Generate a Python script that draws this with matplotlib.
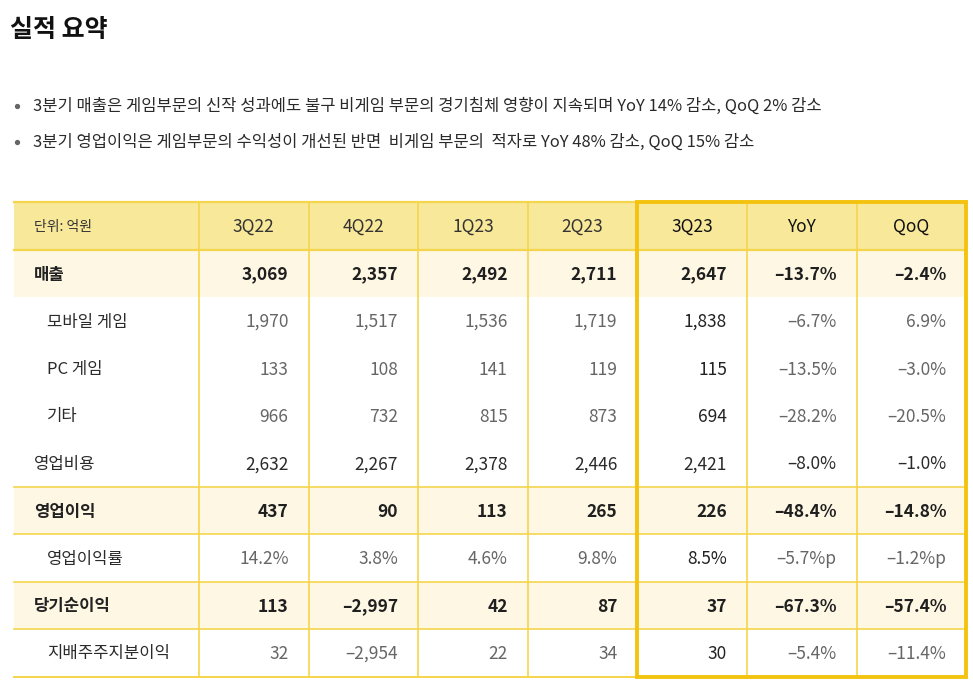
import matplotlib
matplotlib.use("Agg")
import matplotlib.pyplot as plt
from matplotlib.patches import Rectangle

plt.rcParams["font.family"] = ["Noto Sans CJK KR", "DejaVu Sans"]

TITLE = "실적 요약"
BULLETS = [
    "3분기 매출은 게임부문의 신작 성과에도 불구 비게임 부문의 경기침체 영향이 지속되며 YoY 14% 감소, QoQ 2% 감소",
    "3분기 영업이익은 게임부문의 수익성이 개선된 반면  비게임 부문의  적자로 YoY 48% 감소, QoQ 15% 감소",
]

UNIT_LABEL = "단위: 억원"
COLUMNS = ["3Q22", "4Q22", "1Q23", "2Q23", "3Q23", "YoY", "QoQ"]
ROW_LABELS = ["매출", "모바일 게임", "PC 게임", "기타", "영업비용",
              "영업이익", "영업이익률", "당기순이익", "지배주주지분이익"]
# row kind: "main" (shaded, bold), "plain" (not indented), "sub" (indented, grey)
ROW_KINDS = ["main", "sub", "sub", "sub", "plain", "main", "sub", "main", "sub"]

sales = ["3,069", "2,357", "2,492", "2,711", "2,647", "–13.7%", "–2.4%"]
mobile = ["1,970", "1,517", "1,536", "1,719", "1,838", "–6.7%", "6.9%"]
pc = ["133", "108", "141", "119", "115", "–13.5%", "–3.0%"]
other = ["966", "732", "815", "873", "694", "–28.2%", "–20.5%"]
op_cost = ["2,632", "2,267", "2,378", "2,446", "2,421", "–8.0%", "–1.0%"]
op_profit = ["437", "90", "113", "265", "226", "–48.4%", "–14.8%"]
op_margin = ["14.2%", "3.8%", "4.6%", "9.8%", "8.5%", "–5.7%p", "–1.2%p"]
net_income = ["113", "–2,997", "42", "87", "37", "–67.3%", "–57.4%"]
controlling = ["32", "–2,954", "22", "34", "30", "–5.4%", "–11.4%"]
ROWS = [sales, mobile, pc, other, op_cost, op_profit, op_margin, net_income, controlling]

HIGHLIGHT_FROM = 4  # 3Q23, YoY, QoQ

YELLOW_LINE = "#F5D54C"
BOX_YELLOW = "#F3C30F"
HEADER_FILL = "#F8E89A"
MAIN_FILL = "#FDF7E4"

W, H = 973, 691
fig = plt.figure(figsize=(W / 100, H / 100), dpi=100)
ax = fig.add_axes([0, 0, 1, 1])
ax.set_xlim(0, W)
ax.set_ylim(H, 0)
ax.axis("off")

# title and bullets
ax.text(10, 30, TITLE, fontsize=18, fontweight="bold", color="#111111",
        va="center", ha="left")
for i, line in enumerate(BULLETS):
    y = 106 + i * 36
    ax.plot(17, y, "o", ms=2.8, color="#666666")
    ax.text(33, y, line, fontsize=11.9, color="#2a2a2a", va="center", ha="left")

# table geometry
left, label_right = 14, 199
col_w = 109.6
top, header_h, row_h = 202, 48, 47.4
n_rows = len(ROWS)
col_edges = [label_right + col_w * j for j in range(len(COLUMNS) + 1)]
body_top = top + header_h
bottom = body_top + row_h * n_rows
right = col_edges[-1]

# fills
ax.add_patch(Rectangle((left, top), right - left, header_h, color=HEADER_FILL, lw=0, zorder=0))
for i, kind in enumerate(ROW_KINDS):
    if kind == "main":
        ax.add_patch(Rectangle((left, body_top + i * row_h), right - left, row_h,
                               color=MAIN_FILL, lw=0, zorder=0))

# grid lines
ax.plot([left, right], [top, top], color=YELLOW_LINE, lw=1.6, zorder=1)
ax.plot([left, right], [body_top, body_top], color=YELLOW_LINE, lw=1.6, zorder=1)
for i, kind in enumerate(ROW_KINDS):
    y0 = body_top + i * row_h
    prev_main = i > 0 and ROW_KINDS[i - 1] == "main"
    if kind == "main" and i > 0 or prev_main and i > 1:
        ax.plot([left, right], [y0, y0], color=YELLOW_LINE, lw=1.2, zorder=1)
ax.plot([left, right], [bottom, bottom], color=YELLOW_LINE, lw=1.4, zorder=1)
for x in col_edges[:-1]:
    ax.plot([x, x], [top, bottom], color=YELLOW_LINE, lw=1.2, zorder=1)

# highlight box around 3Q23 / YoY / QoQ
hx = col_edges[HIGHLIGHT_FROM]
ax.add_patch(Rectangle((hx, top), right - hx, bottom - top, fill=False,
                       edgecolor=BOX_YELLOW, lw=2.8, zorder=3))

# header text
hy = top + header_h / 2 + 1
ax.text(34, hy, UNIT_LABEL, fontsize=10, color="#333333", va="center", ha="left")
for j, name in enumerate(COLUMNS):
    cx = (col_edges[j] + col_edges[j + 1]) / 2
    hl = j >= HIGHLIGHT_FROM
    ax.text(cx, hy, name, fontsize=12.5, color="#111111" if hl else "#333333",
            fontweight="medium", va="center", ha="center")

# body text
for i, (label, kind, values) in enumerate(zip(ROW_LABELS, ROW_KINDS, ROWS)):
    cy = body_top + row_h * (i + 0.5) + 1
    if kind == "main":
        ax.text(34, cy, label, fontsize=12, fontweight="bold", color="#222222",
                va="center", ha="left")
    elif kind == "plain":
        ax.text(34, cy, label, fontsize=12, color="#2a2a2a", va="center", ha="left")
    else:
        ax.text(47, cy, label, fontsize=12, color="#2a2a2a", va="center", ha="left")
    for j, val in enumerate(values):
        rx = col_edges[j + 1] - 20
        if kind == "main":
            color, weight = "#1f1f1f", "bold"
        elif kind == "plain":
            color, weight = "#2a2a2a", "normal"
        else:
            color = "#222222" if j == HIGHLIGHT_FROM else "#666666"
            weight = "light"
        ax.text(rx, cy, val, fontsize=12.5, fontweight=weight, color=color,
                va="center", ha="right")

fig.savefig("out.png", dpi=100, facecolor="white")
